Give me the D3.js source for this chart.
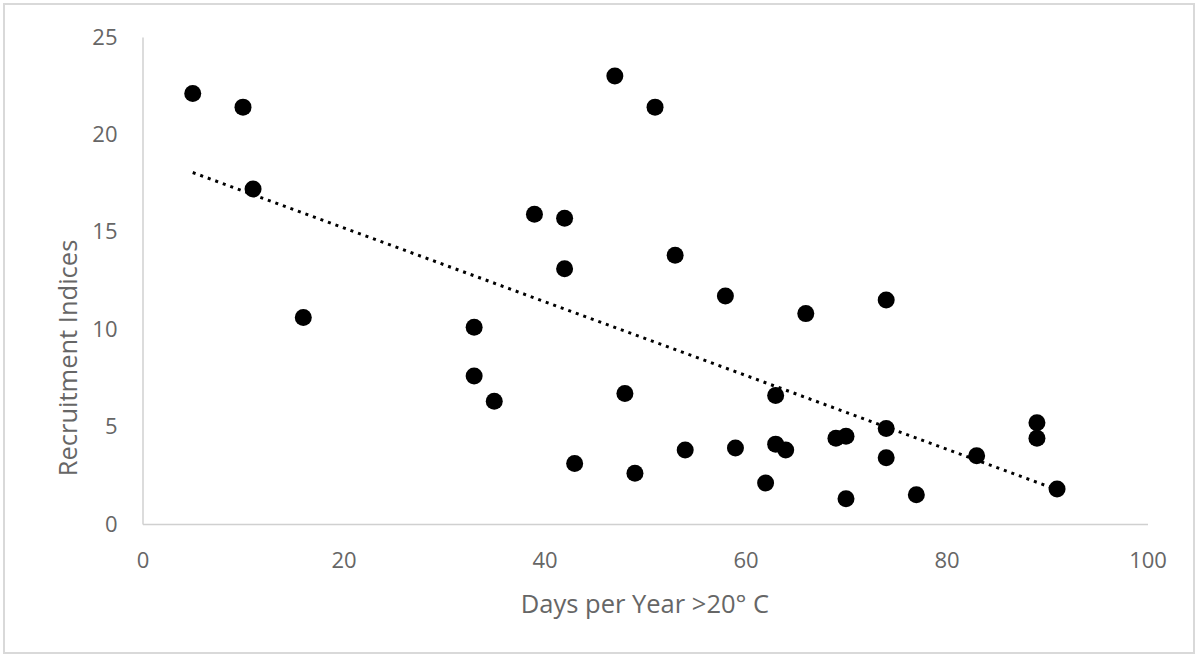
<!DOCTYPE html>
<html><head><meta charset="utf-8">
<script src="https://cdn.jsdelivr.net/npm/d3@7"></script>
<style>body{margin:0;background:#fff}svg{display:block}</style>
</head><body>
<script>
const daysPerYear = [5,10,11,16,33,33,35,39,42,42,43,47,48,49,51,53,54,58,59,62,63,63,64,66,69,70,70,74,74,74,77,83,89,89,91];
const recruitment = [22.1,21.4,17.2,10.6,10.1,7.6,6.3,15.9,15.7,13.1,3.1,23.0,6.7,2.6,21.4,13.8,3.8,11.7,3.9,2.1,6.6,4.1,3.8,10.8,4.4,4.5,1.3,11.5,4.9,3.4,1.5,3.5,5.2,4.4,1.8];
const xTicks = [0,20,40,60,80,100];
const yTicks = [0,5,10,15,20,25];
const xTitle = "Days per Year >20° C";
const yTitle = "Recruitment Indices";

const W = 1199, H = 658;
const svg = d3.select("body").append("svg").attr("width", W).attr("height", H);
svg.append("rect").attr("x",4).attr("y",4).attr("width",1190).attr("height",649)
  .attr("fill","#fff").attr("stroke","#d9d9d9").attr("stroke-width",2);

const x = d3.scaleLinear().domain([0,100]).range([142.5,1147.5]);
const y = d3.scaleLinear().domain([0,25]).range([524,37]);
const font = "'Open Sans', sans-serif";

const xAxis = svg.append("g").attr("transform",`translate(0,${y(0)})`)
  .call(d3.axisBottom(x).tickValues(xTicks).tickSize(0).tickPadding(28));
xAxis.select(".domain").attr("stroke","#d0d0d0").attr("stroke-width",1.5);
xAxis.selectAll("text").attr("fill","#666").style("font-family",font).style("font-size","22px");

const yAxis = svg.append("g").attr("transform",`translate(${x(0)},0)`)
  .call(d3.axisLeft(y).tickValues(yTicks).tickSize(0).tickPadding(25));
yAxis.select(".domain").attr("stroke","#d0d0d0").attr("stroke-width",1.5);
yAxis.selectAll("text").attr("fill","#666").style("font-family",font).style("font-size","22px");

svg.append("text").attr("x",645).attr("y",613).attr("text-anchor","middle")
  .attr("fill","#666").style("font-family",font).style("font-size","25.5px").text(xTitle);
svg.append("text").attr("transform","translate(77,358) rotate(-90)").attr("text-anchor","middle")
  .attr("fill","#666").style("font-family",font).style("font-size","25.5px").text(yTitle);

// linear trend (least squares)
const n = daysPerYear.length;
const mx = d3.mean(daysPerYear), my = d3.mean(recruitment);
let sxy=0, sxx=0;
for(let i=0;i<n;i++){sxy+=(daysPerYear[i]-mx)*(recruitment[i]-my);sxx+=(daysPerYear[i]-mx)**2;}
const slope = sxy/sxx, icpt = my - slope*mx;
const xmin = d3.min(daysPerYear), xmax = d3.max(daysPerYear);
svg.append("line")
  .attr("x1",x(xmin)).attr("y1",y(icpt+slope*xmin))
  .attr("x2",x(xmax)).attr("y2",y(icpt+slope*xmax))
  .attr("stroke","#000").attr("stroke-width",3).attr("stroke-dasharray","3 5");

svg.append("g").selectAll("circle").data(daysPerYear).join("circle")
  .attr("cx",(d)=>x(d)).attr("cy",(d,i)=>y(recruitment[i])).attr("r",8.5).attr("fill","#000");
</script>
</body></html>
